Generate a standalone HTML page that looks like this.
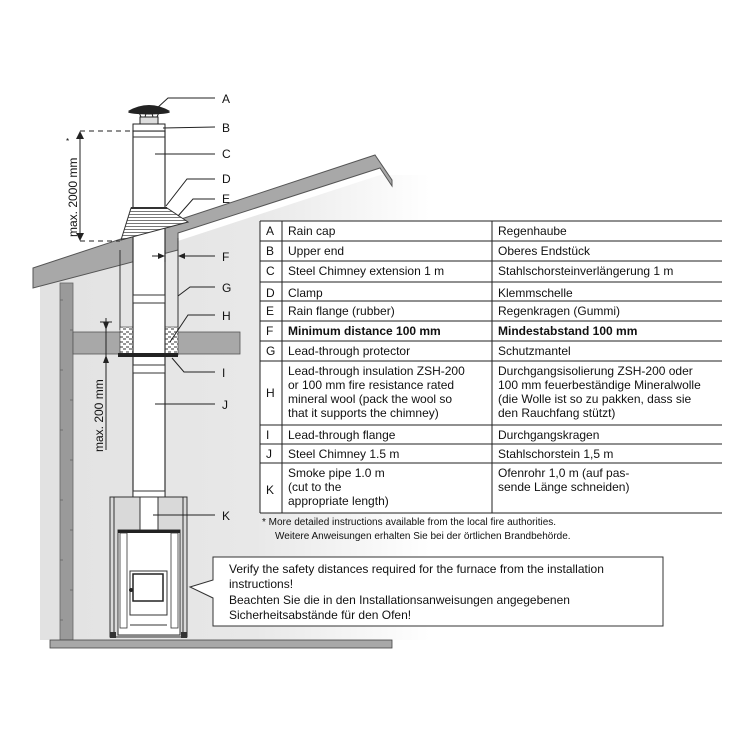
<!DOCTYPE html>
<html><head><meta charset="utf-8"><style>
html,body{margin:0;padding:0;background:#fff;}
svg{display:block;font-family:"Liberation Sans",sans-serif;}
</style></head><body>
<svg width="750" height="750" viewBox="0 0 750 750" xmlns="http://www.w3.org/2000/svg">
<defs>
<linearGradient id="wg" x1="0" x2="1" y1="0" y2="0">
<stop offset="0" stop-color="#e2e2e2"/><stop offset="0.55" stop-color="#e8e8e8"/><stop offset="1" stop-color="#ffffff"/>
</linearGradient>
<pattern id="hat" width="4" height="3" patternUnits="userSpaceOnUse"><rect width="4" height="3" fill="#fff"/><line x1="0" y1="1.5" x2="4" y2="1.5" stroke="#555" stroke-width="0.8"/></pattern>
<pattern id="wool" width="6" height="5" patternUnits="userSpaceOnUse"><rect width="6" height="5" fill="#fff"/><path d="M0 2 h3 M3 4 h3" stroke="#333" stroke-width="0.9"/></pattern>
</defs>
<!-- interior background -->
<polygon points="40,286 380,175 430,175 430,640 40,640" fill="url(#wg)"/>
<!-- roof -->
<polygon points="33,268 375,155 392,180 392,186 380,168 178,233 178,250 33,288" fill="#a8a8a8" stroke="#555" stroke-width="1"/>
<!-- wall -->
<rect x="60" y="283" width="13" height="357" fill="#9a9a9a" stroke="#666" stroke-width="0.8"/>
<g stroke="#666" stroke-width="0.8">
<line x1="60" y1="300" x2="63" y2="300"/><line x1="70" y1="330" x2="73" y2="330"/><line x1="60" y1="370" x2="63" y2="370"/><line x1="70" y1="400" x2="73" y2="400"/><line x1="60" y1="430" x2="63" y2="430"/><line x1="70" y1="460" x2="73" y2="460"/><line x1="60" y1="500" x2="63" y2="500"/><line x1="70" y1="530" x2="73" y2="530"/><line x1="60" y1="560" x2="63" y2="560"/><line x1="70" y1="590" x2="73" y2="590"/><line x1="60" y1="620" x2="63" y2="620"/>
</g>
<!-- floor slab -->
<rect x="73" y="332" width="167" height="22" fill="#a8a8a8" stroke="#555" stroke-width="0.8"/>
<!-- floor -->
<rect x="50" y="640" width="342" height="8" fill="#a8a8a8" stroke="#444" stroke-width="0.8"/>
<!-- protector G lines -->
<line x1="120" y1="250" x2="120" y2="330" stroke="#333" stroke-width="1"/>
<line x1="178" y1="238" x2="178" y2="330" stroke="#333" stroke-width="1"/>
<!-- insulation H -->
<rect x="120" y="327" width="13" height="28" fill="url(#wool)" stroke="#333" stroke-width="0.6"/>
<rect x="165" y="327" width="13" height="28" fill="url(#wool)" stroke="#333" stroke-width="0.6"/>
<!-- chimney pipe -->
<rect x="133" y="131" width="32" height="366" fill="#fff" stroke="#333" stroke-width="1.2"/>
<line x1="133" y1="137" x2="165" y2="137" stroke="#333"/>
<rect x="133" y="295" width="32" height="8" fill="#fff" stroke="#333"/>
<rect x="133" y="365" width="32" height="8" fill="#fff" stroke="#333"/>
<rect x="133" y="491" width="32" height="6" fill="#fff" stroke="#333"/>
<!-- flange I -->
<rect x="118" y="353" width="60" height="4" fill="#222"/>
<!-- rain flange E -->
<polygon points="131,208 167,208 188,222 121,240" fill="url(#hat)" stroke="#333" stroke-width="1"/>
<line x1="131" y1="208" x2="167" y2="208" stroke="#333" stroke-width="2"/>
<!-- upper end + rain cap -->
<rect x="133" y="124" width="32" height="7" fill="#fff" stroke="#222"/>
<rect x="140" y="117" width="18" height="7" fill="#ddd" stroke="#222"/>
<path d="M141 117 L138 110 M157 117 L160 110 M145 117 L147 110 M153 117 L151 110" stroke="#222"/>
<path d="M128 111 Q149 99 170 111 Z" fill="#222"/>
<ellipse cx="149" cy="112" rx="21" ry="2.5" fill="#222"/>
<!-- stove -->
<rect x="110" y="497" width="77" height="140" fill="#d9d9d9" stroke="#333" stroke-width="1"/>
<line x1="114" y1="497" x2="114" y2="637" stroke="#333"/><line x1="183" y1="497" x2="183" y2="637" stroke="#333"/>
<rect x="140" y="497" width="18" height="33" fill="#fff" stroke="#333"/>
<rect x="118" y="530" width="62" height="105" fill="#fff" stroke="#333"/>
<rect x="118" y="530" width="62" height="3" fill="#222"/>
<rect x="120" y="533" width="7" height="95" fill="#fff" stroke="#333" stroke-width="0.8"/>
<rect x="171" y="533" width="7" height="95" fill="#fff" stroke="#333" stroke-width="0.8"/>
<rect x="130" y="571" width="37" height="44" fill="#fff" stroke="#333"/>
<rect x="133" y="574" width="30" height="27" fill="#fff" stroke="#222" stroke-width="1.5"/>
<line x1="130" y1="615" x2="167" y2="615" stroke="#333"/>
<line x1="130" y1="625" x2="167" y2="625" stroke="#333"/>
<circle cx="131" cy="590" r="2" fill="#222"/>
<rect x="110" y="632" width="6" height="6" fill="#333"/><rect x="181" y="632" width="6" height="6" fill="#333"/>
<!-- dimensions -->
<g stroke="#222" stroke-width="1">
<line x1="80" y1="131" x2="133" y2="131" stroke-dasharray="5,4"/>
<line x1="80" y1="241" x2="120" y2="241" stroke-dasharray="5,4"/>
<line x1="80" y1="133" x2="80" y2="239"/>
<line x1="106" y1="318" x2="106" y2="450"/>
<line x1="100" y1="322" x2="112" y2="322"/>
</g>
<polygon points="80,131 76,139 84,139" fill="#222"/><polygon points="80,241 76,233 84,233" fill="#222"/>
<polygon points="106,330 103,322 109,322" fill="#222"/><polygon points="106,355 103,363 109,363" fill="#222"/>
<text transform="translate(77,237) rotate(-90)" font-size="12" fill="#111">max. 2000 mm</text>
<text x="66" y="144" font-size="8">*</text>
<text transform="translate(103,452) rotate(-90)" font-size="12" fill="#111">max. 200 mm</text>
<!-- F arrows -->
<line x1="165" y1="250" x2="165" y2="262" stroke="#222"/>
<polygon points="165,256 158,253 158,259" fill="#222"/>
<polygon points="178,256 185,253 185,259" fill="#222"/>
<line x1="152" y1="256" x2="163" y2="256" stroke="#222"/>
<!-- leaders -->
<g stroke="#222" stroke-width="1" fill="none">
<polyline points="156,109 168,98 215,98"/>
<polyline points="163,128 215,127"/>
<polyline points="155,154 215,154"/>
<polyline points="166,206 187,179 215,179"/>
<polyline points="178,216 193,199 215,199"/>
<polyline points="185,256 215,256"/>
<polyline points="178,296 190,287 215,287"/>
<polyline points="170,342 188,315 215,315"/>
<polyline points="172,358 184,372 215,372"/>
<polyline points="155,404 215,404"/>
<polyline points="153,515 215,515"/>
</g>
<g font-size="12" fill="#111">
<text x="222" y="103">A</text><text x="222" y="132">B</text><text x="222" y="158">C</text><text x="222" y="183">D</text><text x="222" y="203">E</text><text x="222" y="261">F</text><text x="222" y="292">G</text><text x="222" y="320">H</text><text x="222" y="377">I</text><text x="222" y="409">J</text><text x="222" y="520">K</text>
</g>
<!-- table -->
<rect x="260" y="221" width="480" height="292" fill="#fff"/>
<g stroke="#222" stroke-width="1">
<line x1="260" y1="221" x2="722" y2="221"/><line x1="260" y1="241" x2="722" y2="241"/><line x1="260" y1="261" x2="722" y2="261"/><line x1="260" y1="282" x2="722" y2="282"/><line x1="260" y1="301" x2="722" y2="301"/><line x1="260" y1="321" x2="722" y2="321"/><line x1="260" y1="341" x2="722" y2="341"/><line x1="260" y1="361" x2="722" y2="361"/><line x1="260" y1="425" x2="722" y2="425"/><line x1="260" y1="444" x2="722" y2="444"/><line x1="260" y1="463" x2="722" y2="463"/><line x1="260" y1="513" x2="722" y2="513"/>
<line x1="260" y1="221" x2="260" y2="513"/><line x1="282" y1="221" x2="282" y2="513"/><line x1="492" y1="221" x2="492" y2="513"/>
</g>
<g font-size="12" fill="#111">
<text x="266" y="235">A</text><text x="288" y="235">Rain cap</text><text x="498" y="235">Regenhaube</text>
<text x="266" y="255">B</text><text x="288" y="255">Upper end</text><text x="498" y="255">Oberes Endstück</text>
<text x="266" y="275">C</text><text x="288" y="275">Steel Chimney extension 1 m</text><text x="498" y="275">Stahlschorsteinverlängerung 1 m</text>
<text x="266" y="297">D</text><text x="288" y="297">Clamp</text><text x="498" y="297">Klemmschelle</text>
<text x="266" y="315">E</text><text x="288" y="315">Rain flange (rubber)</text><text x="498" y="315">Regenkragen (Gummi)</text>
<text x="266" y="335">F</text><text x="288" y="335" font-weight="bold">Minimum distance 100 mm</text><text x="498" y="335" font-weight="bold">Mindestabstand 100 mm</text>
<text x="266" y="355">G</text><text x="288" y="355">Lead-through protector</text><text x="498" y="355">Schutzmantel</text>
<text x="266" y="397">H</text>
<text x="288" y="375">Lead-through insulation ZSH-200</text><text x="288" y="389">or 100 mm fire resistance rated</text><text x="288" y="403">mineral wool (pack the wool so</text><text x="288" y="417">that it supports the chimney)</text>
<text x="498" y="375">Durchgangsisolierung ZSH-200 oder</text><text x="498" y="389">100 mm feuerbeständige Mineralwolle</text><text x="498" y="403">(die Wolle ist so zu pakken, dass sie</text><text x="498" y="417">den Rauchfang stützt)</text>
<text x="266" y="439">I</text><text x="288" y="439">Lead-through flange</text><text x="498" y="439">Durchgangskragen</text>
<text x="266" y="458">J</text><text x="288" y="458">Steel Chimney 1.5 m</text><text x="498" y="458">Stahlschorstein 1,5 m</text>
<text x="266" y="494">K</text>
<text x="288" y="477">Smoke pipe 1.0 m</text><text x="288" y="491">(cut to the</text><text x="288" y="505">appropriate length)</text>
<text x="498" y="477">Ofenrohr 1,0 m (auf pas-</text><text x="498" y="491">sende Länge schneiden)</text>
</g>
<g font-size="10" fill="#111">
<text x="262" y="525">*  More detailed instructions available from the local fire authorities.</text>
<text x="275" y="539">Weitere Anweisungen erhalten Sie bei der örtlichen Brandbehörde.</text>
</g>
<!-- callout -->
<path d="M213,557 L663,557 L663,626 L213,626 L213,598 L190,587 L213,580 Z" fill="#fff" stroke="#333" stroke-width="1"/>
<g font-size="12" fill="#111">
<text x="229" y="573">Verify the safety distances required for the furnace from the installation</text>
<text x="229" y="588">instructions!</text>
<text x="229" y="604">Beachten Sie die in den Installationsanweisungen angegebenen</text>
<text x="229" y="619">Sicherheitsabstände für den Ofen!</text>
</g>
</svg>
</body></html>
